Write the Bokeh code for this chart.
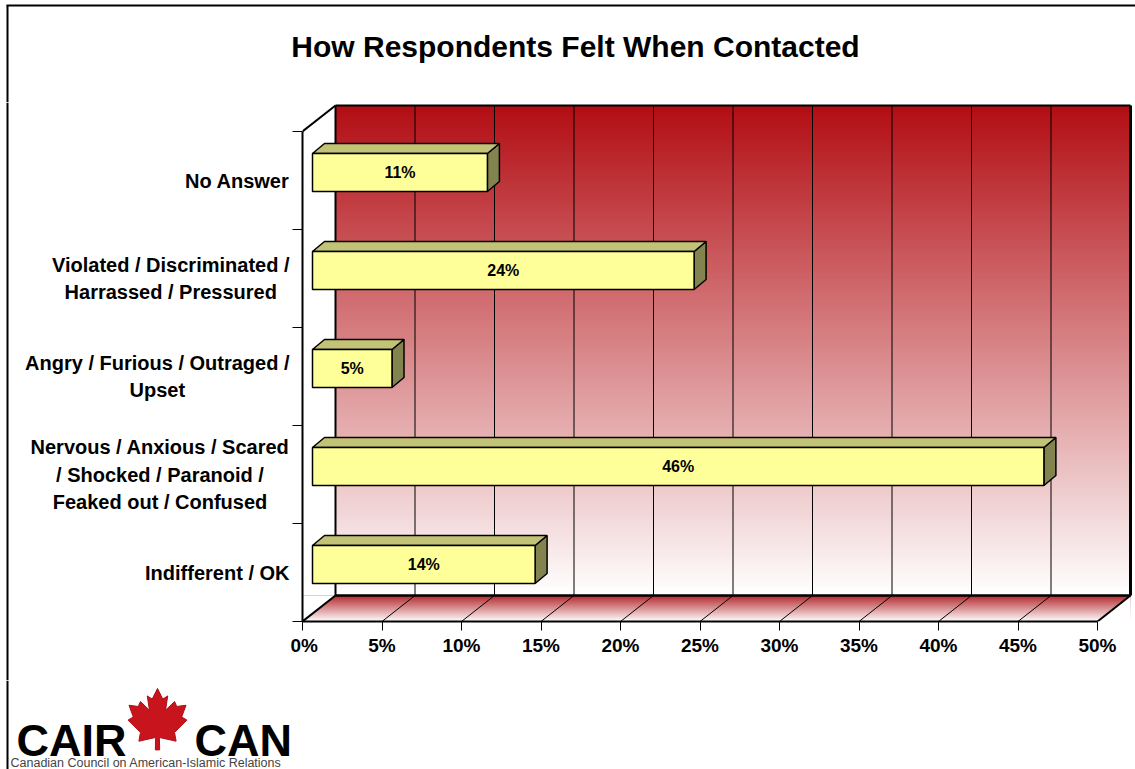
import numpy as np
from bokeh.plotting import figure
from bokeh.layouts import column, row
from bokeh.models import Range1d, FixedTicker
from bokeh.core.properties import value
from bokeh.embed import file_html
from bokeh.resources import INLINE

# ---------------- data ----------------
TITLE = "How Respondents Felt When Contacted"
CATEGORIES = [
    "Indifferent / OK",
    "Nervous / Anxious / Scared\n/ Shocked / Paranoid /\nFeaked out / Confused",
    "Angry / Furious / Outraged /\nUpset",
    "Violated / Discriminated /\nHarrassed / Pressured",
    "No Answer",
]
VALUES = [14, 46, 5, 24, 11]
BAR_LABELS = ["14%", "46%", "5%", "24%", "11%"]
X_TICKS = [0, 5, 10, 15, 20, 25, 30, 35, 40, 45, 50]
X_TICK_LABELS = ["0%", "5%", "10%", "15%", "20%", "25%", "30%", "35%", "40%", "45%", "50%"]
LOGO_LEFT = "CAIR"
LOGO_RIGHT = "CAN"
LOGO_SUB = "Canadian Council on American-Islamic Relations"

# ---------------- layout / style constants (pixels) ----------------
W = 1135
TOP_H = 102            # title band
MID_H = 578            # chart band
BOT_H = 89             # logo band
LABEL_W = 290          # category-label column
FRAME_LEFT, FRAME_RIGHT, FRAME_TOP, FRAME_BOTTOM = 302, 1134, 102, 621
PX_PER_X = 15.9
PX_PER_Y = 98.0
FONT = "Liberation Sans"

X_MAX = X_TICKS[-1]
NCAT = len(CATEGORIES)
DX = 33 / PX_PER_X          # 3-D depth of the chart box
DY = 26 / PX_PER_Y
OX = 10 / PX_PER_X          # bar front-face offset into the depth
OY = 8 / PX_PER_Y
BX = 12 / PX_PER_X          # bar depth
BY = 10 / PX_PER_Y
BAR_H = 38 / PX_PER_Y


def sy(py):
    return (FRAME_BOTTOM - py) / PX_PER_Y


def deco_fig(w, h, xr, yr):
    f = figure(width=w, height=h, x_range=xr, y_range=yr,
               x_axis_type=None, y_axis_type=None,
               output_backend="svg", toolbar_location=None,
               min_border=0)
    f.min_border_left = f.min_border_right = f.min_border_top = f.min_border_bottom = 0
    f.background_fill_color = "white"
    f.border_fill_color = "white"
    f.outline_line_color = None
    return f


# ================= main chart =================
p = figure(
    width=W - LABEL_W, height=MID_H,
    x_range=Range1d(0, (FRAME_RIGHT - FRAME_LEFT) / PX_PER_X),
    y_range=Range1d(0, (FRAME_BOTTOM - FRAME_TOP) / PX_PER_Y),
    output_backend="svg", toolbar_location=None,
)
p.min_border_left = FRAME_LEFT - LABEL_W
p.min_border_right = W - FRAME_RIGHT
p.min_border_top = 0
p.min_border_bottom = TOP_H + MID_H - FRAME_BOTTOM
p.background_fill_color = "white"
p.border_fill_color = "white"
p.outline_line_color = None
p.xgrid.visible = False
p.ygrid.visible = False

xa = p.xaxis[0]
xa.ticker = FixedTicker(ticks=X_TICKS)
xa.major_label_overrides = {t: l for t, l in zip(X_TICKS, X_TICK_LABELS)}
xa.bounds = (0, X_MAX)
xa.axis_line_width = 2
xa.axis_line_color = "black"
xa.major_tick_out = 9
xa.major_tick_in = 0
xa.major_tick_line_color = "black"
xa.minor_tick_out = 0
xa.minor_tick_in = 0
xa.major_label_standoff = 4
xa.major_label_text_font = FONT
xa.major_label_text_font_style = "bold"
xa.major_label_text_font_size = "19px"
xa.major_label_text_color = "black"

ya = p.yaxis[0]
ya.ticker = FixedTicker(ticks=list(range(NCAT + 1)))
ya.major_label_overrides = {i: "" for i in range(NCAT + 1)}
ya.bounds = (0, NCAT)
ya.axis_line_width = 2
ya.axis_line_color = "black"
ya.major_tick_out = 10
ya.major_tick_in = 0
ya.major_tick_line_color = "black"
ya.minor_tick_out = 0
ya.minor_tick_in = 0
ya.major_label_standoff = 0


def gradient(c_bottom, c_top, n=256):
    t = np.linspace(0.0, 1.0, n)[:, None]
    img = np.empty((n, 1), dtype=np.uint32)
    v = img.view(dtype=np.uint8).reshape((n, 1, 4))
    for k in range(3):
        v[:, :, k] = np.round(c_bottom[k] + (c_top[k] - c_bottom[k]) * t).astype(np.uint8)
    v[:, :, 3] = 255
    return img


wall_img = gradient((255, 255, 255), (178, 14, 20))
floor_img = gradient((255, 255, 255), (180, 40, 45))

p.image_rgba(image=[wall_img], x=DX, y=DY, dw=X_MAX, dh=NCAT)
p.image_rgba(image=[floor_img], x=0, y=0, dw=X_MAX + DX, dh=DY)
p.patches(xs=[[0, 0, DX], [X_MAX, X_MAX + DX, X_MAX + DX]],
          ys=[[0, DY, DY], [0, 0, DY]],
          fill_color="white", line_color=None)

inner = X_TICKS[1:-1]
p.segment(x0=[t + DX for t in inner], y0=DY, x1=[t + DX for t in inner], y1=NCAT + DY,
          line_color="black", line_width=1)
p.segment(x0=inner, y0=0, x1=[t + DX for t in inner], y1=DY,
          line_color="black", line_width=1)

p.segment(x0=[DX, DX, X_MAX + DX, DX, 0, 0, X_MAX],
          y0=[DY, NCAT + DY, DY, DY, 0, NCAT, 0],
          x1=[DX, X_MAX + DX, X_MAX + DX, X_MAX + DX, DX, DX, X_MAX + DX],
          y1=[NCAT + DY, NCAT + DY, NCAT + DY, DY, DY, NCAT + DY, DY],
          line_color="black", line_width=[2, 2, 3, 2.5, 2, 2, 2])

yc = [i + 0.5 for i in range(NCAT)]
b0 = [c - BAR_H / 2 + OY for c in yc]
b1 = [c + BAR_H / 2 + OY for c in yc]
xr = [v + OX for v in VALUES]

p.patches(xs=[[r, r + BX, r + BX, r] for r in xr],
          ys=[[lo, lo + BY, hi + BY, hi] for lo, hi in zip(b0, b1)],
          fill_color="#838350", line_color="black", line_width=1.5)
p.patches(xs=[[OX, r, r + BX, OX + BX] for r in xr],
          ys=[[hi, hi, hi + BY, hi + BY] for hi in b1],
          fill_color="#C3C377", line_color="black", line_width=1.5)
p.quad(left=OX, right=xr, bottom=b0, top=b1,
       fill_color="#FFFF99", line_color="black", line_width=1.5)
p.text(x=[v / 2 + OX for v in VALUES], y=[c + OY for c in yc], text=BAR_LABELS,
       text_align="center", text_baseline="middle",
       text_font=value(FONT), text_font_style="bold", text_font_size="16px",
       text_color="black")

# ================= category labels column =================
lab = deco_fig(LABEL_W, MID_H, Range1d(0, LABEL_W),
               Range1d(sy(TOP_H + MID_H), sy(TOP_H)))
lab.text(x=[LABEL_W - 1] * NCAT, y=yc, text=CATEGORIES,
         text_align="center", text_baseline="middle", anchor="center_right",
         text_line_height=1.25,
         text_font=value(FONT), text_font_style="bold", text_font_size="20px",
         text_color="black")
lab.segment(x0=[7], y0=[sy(TOP_H)], x1=[7], y1=[sy(TOP_H + MID_H)],
            line_color="black", line_width=2)

# ================= title band =================
top = deco_fig(W, TOP_H, Range1d(0, W), Range1d(TOP_H, 0))
top.text(x=[575], y=[46], text=[TITLE], text_align="center", text_baseline="middle",
         text_font=value(FONT), text_font_style="bold", text_font_size="30px",
         text_color="black")
top.segment(x0=[7, 6], y0=[5, 5], x1=[7, W + 5], y1=[TOP_H, 5],
            line_color="black", line_width=2)

# ================= logo band =================
bot = deco_fig(W, BOT_H, Range1d(0, W), Range1d(TOP_H + MID_H + BOT_H, TOP_H + MID_H))
bot.segment(x0=[7], y0=[TOP_H + MID_H], x1=[7], y1=[TOP_H + MID_H + BOT_H],
            line_color="black", line_width=2)
LEAF_U = [0, 0.17, 0.33, 0.26, 0.55, 0.62, 0.92, 0.78, 0.95, 0.55, 0.6, 0.06, 0.07,
          -0.07, -0.06, -0.6, -0.55, -0.95, -0.78, -0.92, -0.62, -0.55, -0.26, -0.33, -0.17]
LEAF_V = [1.0, 0.66, 0.76, 0.3, 0.58, 0.42, 0.46, 0.08, -0.02, -0.42, -0.7, -0.58, -0.98,
          -0.98, -0.58, -0.7, -0.42, -0.02, 0.08, 0.46, 0.42, 0.58, 0.3, 0.76, 0.66]
bot.patch(x=[157 + 31 * u for u in LEAF_U], y=[719 - 31 * v for v in LEAF_V],
          fill_color="#C8141C", line_color="#B01018", line_width=1)
bot.text(x=[16, 194], y=[740, 740], text=[LOGO_LEFT, LOGO_RIGHT],
         text_align="left", text_baseline="alphabetic",
         text_font=value(FONT), text_font_style="bold",
         text_font_size="45px", text_color="#000000")
bot.text(x=[10], y=[762], text=[LOGO_SUB], text_align="left", text_baseline="alphabetic",
         text_font=value(FONT), text_font_size="12.5px", text_color="#444444")

layout = column(top, row(column(lab), p), bot)
open("out.html", "w").write(file_html(layout, INLINE))
